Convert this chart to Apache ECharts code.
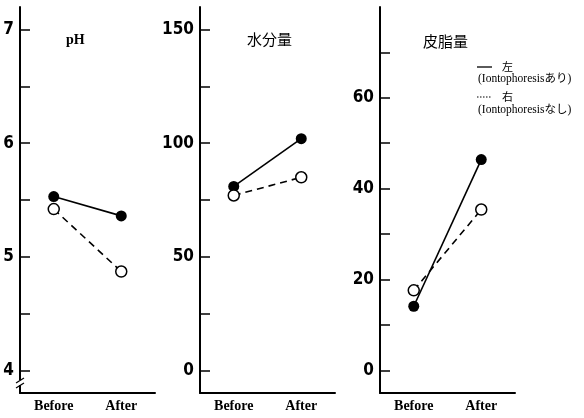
<!DOCTYPE html>
<html><head><meta charset="utf-8">
<script src="https://cdn.jsdelivr.net/npm/echarts@6/dist/echarts.min.js"></script>
<style>html,body{margin:0;padding:0;background:#fff}#c{width:584px;height:418px}</style>
</head><body><div id="c"></div>
<script>
const categories = ['Before', 'After'];
const titles = ['pH', '水分量', '皮脂量'];
// 左 (Iontophoresisあり) filled markers, solid line
const phLeft = [5.53, 5.36];
const waterLeft = [81, 102];
const sebumLeft = [14.1, 46.4];
// 右 (Iontophoresisなし) open markers, dashed line
const phRight = [5.42, 4.87];
const waterRight = [77, 85];
const sebumRight = [17.6, 35.4];
// tick marks and labels
const phTicks = [4, 4.5, 5, 5.5, 6, 6.5, 7];
const phLabels = [4, 5, 6, 7];
const waterTicks = [0, 25, 50, 75, 100, 125, 150];
const waterLabels = [0, 50, 100, 150];
const sebumTicks = [0, 10, 20, 30, 40, 50, 60, 70];
const sebumLabels = [0, 20, 40, 60];
const ranges = [[3.8, 7.2], [-10, 160], [-5, 80]];

const lefts = [20, 200, 380];
const leftData = [phLeft, waterLeft, sebumLeft];
const rightData = [phRight, waterRight, sebumRight];
const tickSets = [phTicks, waterTicks, sebumTicks];
const labelSets = [phLabels, waterLabels, sebumLabels];

const numFont = "'Liberation Sans Narrow', 'DejaVu Sans Condensed', sans-serif";
const grid = [], xAxis = [], yAxis = [], series = [];
for (let i = 0; i < 3; i++) {
  grid.push({left: lefts[i], width: 135, top: 7, bottom: 25});
  xAxis.push({
    type: 'category', gridIndex: i, data: categories, boundaryGap: true,
    axisLine: {onZero: false, lineStyle: {color: '#000', width: 2}},
    axisTick: {inside: true, alignWithLabel: true, length: 6, lineStyle: {color: '#000', width: 1.2}},
    axisLabel: {color: '#000', fontFamily: 'Liberation Serif', fontWeight: 'bold', fontSize: 14, margin: 6}
  });
  yAxis.push({
    type: 'value', gridIndex: i, min: ranges[i][0], max: ranges[i][1],
    axisLine: {show: true, onZero: false, lineStyle: {color: '#000', width: 2}},
    axisTick: {show: true, inside: true, length: 10, customValues: tickSets[i], lineStyle: {color: '#000', width: 1.5}},
    axisLabel: {show: true, customValues: labelSets[i], color: '#000', fontFamily: numFont, fontWeight: 'bold', fontSize: 17, margin: 6},
    splitLine: {show: false}
  });
  series.push({
    type: 'line', xAxisIndex: i, yAxisIndex: i, data: leftData[i],
    symbol: 'circle', symbolSize: 11, z: 3,
    lineStyle: {color: '#000', width: 1.6, type: 'solid'},
    itemStyle: {color: '#000'}
  });
  series.push({
    type: 'line', xAxisIndex: i, yAxisIndex: i, data: rightData[i],
    symbol: 'circle', symbolSize: 11, z: 4,
    lineStyle: {color: '#000', width: 1.6, type: [7, 5]},
    itemStyle: {color: '#fff', borderColor: '#000', borderWidth: 1.5}
  });
}

const serifJP = "'Liberation Serif', 'Noto Sans CJK JP'";
const graphic = [
  {type: 'text', left: 66, top: 33, style: {text: titles[0], font: "bold 14px 'Liberation Serif'", fill: '#000'}},
  {type: 'text', left: 247, top: 32, style: {text: titles[1], font: "15px 'Noto Sans CJK JP'", fill: '#000'}},
  {type: 'text', left: 423, top: 34, style: {text: titles[2], font: "15px 'Noto Sans CJK JP'", fill: '#000'}},
  // axis break marks on pH axis
  {type: 'rect', shape: {x: 17, y: 380, width: 6, height: 5}, style: {fill: '#fff'}, z: 100},
  {type: 'line', shape: {x1: 16, y1: 383, x2: 24, y2: 378}, style: {stroke: '#000', lineWidth: 1.2}, z: 101},
  {type: 'line', shape: {x1: 16, y1: 388, x2: 24, y2: 383}, style: {stroke: '#000', lineWidth: 1.2}, z: 101},
  // legend
  {type: 'line', shape: {x1: 477, y1: 67, x2: 492, y2: 67}, style: {stroke: '#000', lineWidth: 1.3}},
  {type: 'text', left: 502, top: 61, style: {text: '左', font: "11px 'Noto Sans CJK JP'", fill: '#000'}},
  {type: 'text', left: 478, top: 73, style: {text: '(Iontophoresisあり)', font: '11.5px ' + serifJP, fill: '#000'}},
  {type: 'line', shape: {x1: 477, y1: 97, x2: 491, y2: 97}, style: {stroke: '#000', lineWidth: 1, lineDash: [1.5, 1.5]}},
  {type: 'text', left: 502, top: 91, style: {text: '右', font: "11px 'Noto Sans CJK JP'", fill: '#000'}},
  {type: 'text', left: 478, top: 104, style: {text: '(Iontophoresisなし)', font: '11.5px ' + serifJP, fill: '#000'}}
];

const chart = echarts.init(document.getElementById('c'), null, {renderer: 'canvas'});
chart.setOption({animation: false, backgroundColor: '#fff', grid, xAxis, yAxis, series, graphic});
</script></body></html>
